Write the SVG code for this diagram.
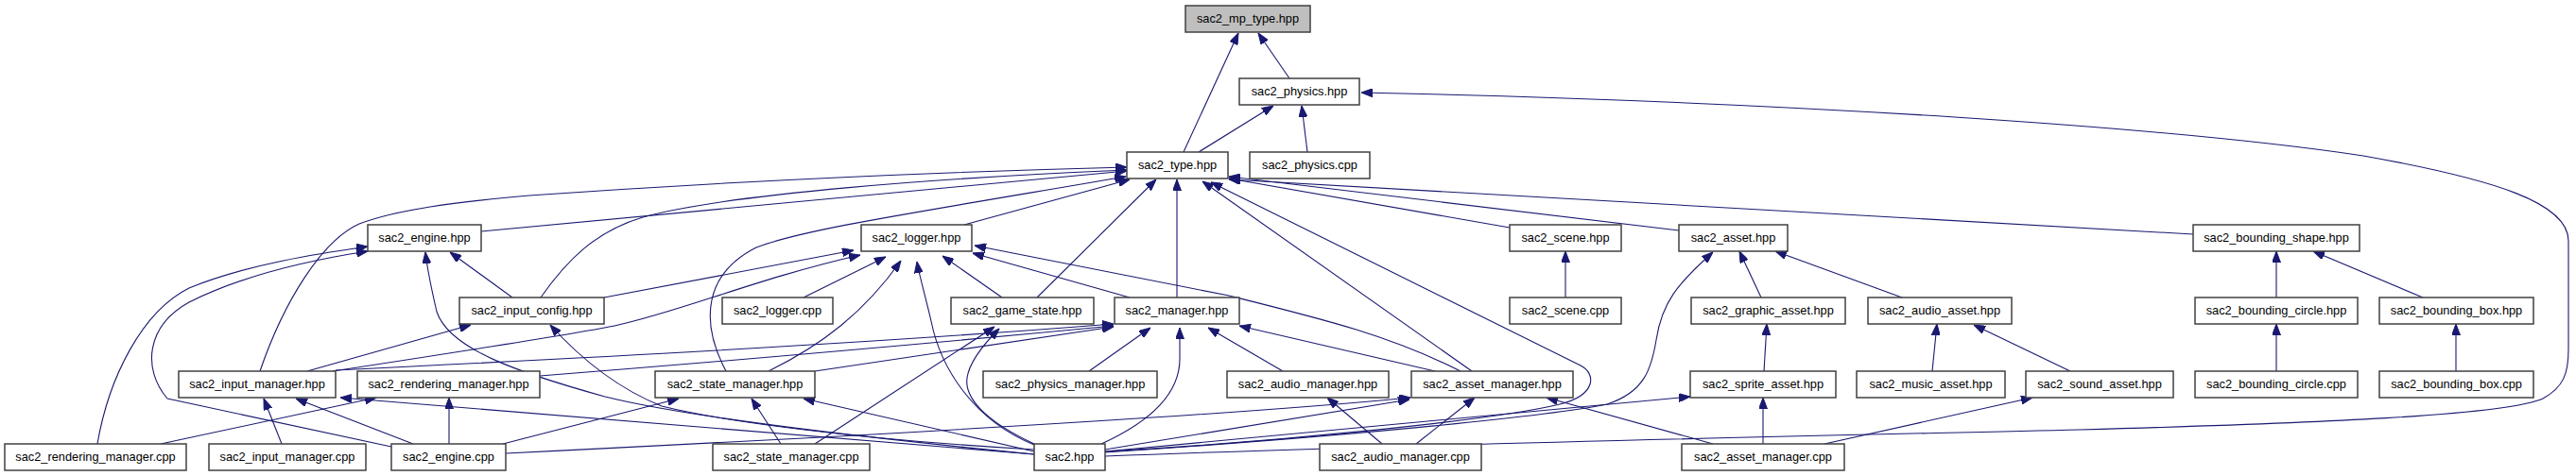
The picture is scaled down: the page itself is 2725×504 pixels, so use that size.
<svg xmlns="http://www.w3.org/2000/svg" width="2725" height="504" viewBox="0 0 2725 504">
<style>
.n rect{fill:#fff;stroke:#404040;stroke-width:1.5}
.n text{font-family:"Liberation Sans",Arial,Helvetica,sans-serif;font-size:12.8px;text-anchor:middle;fill:#000}
#mp_type rect{fill:#bfbfbf}
.e path{fill:none;stroke:#191970;stroke-width:1.1;marker-end:url(#ah)}
</style>
<defs>
<marker id="ah" markerWidth="12" markerHeight="9" refX="12" refY="4.5" orient="auto" markerUnits="userSpaceOnUse">
<path d="M0,0 L12,4.5 L0,9 z" fill="#191970" stroke="#191970" stroke-width="1"/>
</marker>
</defs>
<rect width="2725" height="504" fill="#fff"/>
<g class="e" id="edges">
<path d="M1252,161 L1310,35"/>
<path d="M1364,83 L1331,35"/>
<path d="M1268,161 L1347,112"/>
<path d="M1383,161 L1377,112"/>
<path d="M1169,483 C1500,470 1900,462 2200,455 C2450,448 2650,440 2690,422 C2712,410 2717,395 2717,370 L2717,255 C2717,215 2640,190 2500,165 C2300,135 1900,108 1440,98"/>
<path d="M509,245 L1192,181"/>
<path d="M1020,238 L1195,190"/>
<path d="M572,315 C600,275 630,245 680,230 C770,205 1000,188 1192,180"/>
<path d="M275,393 C300,320 340,255 380,237 C420,222 480,214 560,207 C800,190 1000,182 1192,177"/>
<path d="M768,393 C740,340 745,290 800,262 C850,243 950,228 1191,187"/>
<path d="M1097,315 L1223,190"/>
<path d="M1245,315 L1245,190"/>
<path d="M1597,241 L1300,189"/>
<path d="M1776,244 L1300,187"/>
<path d="M2320,248 L1300,190"/>
<path d="M1557,393 L1272,192"/>
<path d="M1169,478 C1350,468 1580,445 1650,428 C1690,418 1688,395 1672,387 L1281,193"/>
<path d="M639,315 L903,265"/>
<path d="M352,393 C450,378 600,355 650,345 C720,330 800,295 910,270"/>
<path d="M850,315 L937,272"/>
<path d="M813,393 C870,365 915,330 953,276"/>
<path d="M1094,471 C1030,445 995,390 985,340 C978,310 972,290 970,277"/>
<path d="M1060,315 L997,271"/>
<path d="M1195,315 L1029,268"/>
<path d="M1545,393 C1470,355 1400,338 1300,313 L1031,260"/>
<path d="M862,470 L1052,346"/>
<path d="M1094,470 C1040,445 1020,420 1023,400 C1026,380 1045,360 1057,348"/>
<path d="M355,392 C600,380 900,365 1178,343"/>
<path d="M571,398 C800,380 1000,362 1178,345"/>
<path d="M862,393 L1178,346"/>
<path d="M1152,393 L1217,347"/>
<path d="M1165,470 C1220,445 1248,415 1248,380 L1248,347"/>
<path d="M1357,393 L1278,347"/>
<path d="M1518,393 L1311,345"/>
<path d="M532,470 L718,422"/>
<path d="M826,470 L795,422"/>
<path d="M1094,478 L850,422"/>
<path d="M298,470 L279,422"/>
<path d="M437,470 L313,422"/>
<path d="M1094,481 L360,421"/>
<path d="M170,470 L398,421"/>
<path d="M475,470 L475,421"/>
<path d="M325,393 L498,344"/>
<path d="M1094,476 C900,465 760,445 700,430 C650,410 610,375 582,344"/>
<path d="M542,315 L476,267"/>
<path d="M103,470 C115,400 150,330 200,305 C260,280 340,268 389,261"/>
<path d="M414,473 L177,422 C150,390 155,345 200,320 C260,290 330,275 389,266"/>
<path d="M1094,481 C900,462 720,440 640,420 C550,395 475,370 462,330 C455,300 452,285 450,267"/>
<path d="M535,480 C900,462 1300,440 1492,421"/>
<path d="M1169,476 L1491,423"/>
<path d="M1498,470 L1560,421"/>
<path d="M1812,470 L1636,421"/>
<path d="M1462,470 L1404,421"/>
<path d="M1656,315 L1656,266"/>
<path d="M1863,315 L1840,266"/>
<path d="M2012,315 L1878,266"/>
<path d="M1169,479 C1450,460 1640,440 1700,428 C1740,415 1747,390 1752,360 C1758,320 1775,300 1812,267"/>
<path d="M1169,478 L1788,420"/>
<path d="M1865,470 L1865,421"/>
<path d="M1866,393 L1869,343"/>
<path d="M2044,393 L2049,343"/>
<path d="M2190,393 L2088,344"/>
<path d="M1930,470 L2150,421"/>
<path d="M2408,315 L2408,266"/>
<path d="M2563,315 L2447,266"/>
<path d="M2408,393 L2408,343"/>
<path d="M2598,393 L2598,343"/>
</g>
<g class="n" id="mp_type"><rect x="1254" y="6" width="132" height="28"/><text x="1320" y="24">sac2_mp_type.hpp</text></g>
<g class="n" id="physics_hpp"><rect x="1311" y="83" width="127" height="28"/><text x="1374.5" y="101">sac2_physics.hpp</text></g>
<g class="n" id="type_hpp"><rect x="1192" y="161" width="107" height="28"/><text x="1245.5" y="179">sac2_type.hpp</text></g>
<g class="n" id="physics_cpp"><rect x="1322" y="161" width="127" height="28"/><text x="1385.5" y="179">sac2_physics.cpp</text></g>
<g class="n" id="engine_hpp"><rect x="389" y="238" width="120" height="28"/><text x="449" y="256">sac2_engine.hpp</text></g>
<g class="n" id="logger_hpp"><rect x="911" y="238" width="117" height="28"/><text x="969.5" y="256">sac2_logger.hpp</text></g>
<g class="n" id="scene_hpp"><rect x="1597" y="238" width="118" height="28"/><text x="1656" y="256">sac2_scene.hpp</text></g>
<g class="n" id="asset_hpp"><rect x="1776" y="238" width="115" height="28"/><text x="1833.5" y="256">sac2_asset.hpp</text></g>
<g class="n" id="bounding_shape_hpp"><rect x="2320" y="238" width="176" height="28"/><text x="2408" y="256">sac2_bounding_shape.hpp</text></g>
<g class="n" id="input_config_hpp"><rect x="486" y="315" width="153" height="28"/><text x="562.5" y="333">sac2_input_config.hpp</text></g>
<g class="n" id="logger_cpp"><rect x="764" y="315" width="117" height="28"/><text x="822.5" y="333">sac2_logger.cpp</text></g>
<g class="n" id="game_state_hpp"><rect x="1006" y="315" width="151" height="28"/><text x="1081.5" y="333">sac2_game_state.hpp</text></g>
<g class="n" id="manager_hpp"><rect x="1179" y="315" width="132" height="28"/><text x="1245" y="333">sac2_manager.hpp</text></g>
<g class="n" id="scene_cpp"><rect x="1597" y="315" width="118" height="28"/><text x="1656" y="333">sac2_scene.cpp</text></g>
<g class="n" id="graphic_asset_hpp"><rect x="1789" y="315" width="163" height="28"/><text x="1870.5" y="333">sac2_graphic_asset.hpp</text></g>
<g class="n" id="audio_asset_hpp"><rect x="1976" y="315" width="152" height="28"/><text x="2052" y="333">sac2_audio_asset.hpp</text></g>
<g class="n" id="bounding_circle_hpp"><rect x="2322" y="315" width="172" height="28"/><text x="2408" y="333">sac2_bounding_circle.hpp</text></g>
<g class="n" id="bounding_box_hpp"><rect x="2517" y="315" width="163" height="28"/><text x="2598.5" y="333">sac2_bounding_box.hpp</text></g>
<g class="n" id="input_manager_hpp"><rect x="189" y="393" width="166" height="28"/><text x="272" y="411">sac2_input_manager.hpp</text></g>
<g class="n" id="rendering_manager_hpp"><rect x="378" y="393" width="193" height="28"/><text x="474.5" y="411">sac2_rendering_manager.hpp</text></g>
<g class="n" id="state_manager_hpp"><rect x="693" y="393" width="169" height="28"/><text x="777.5" y="411">sac2_state_manager.hpp</text></g>
<g class="n" id="physics_manager_hpp"><rect x="1040" y="393" width="184" height="28"/><text x="1132" y="411">sac2_physics_manager.hpp</text></g>
<g class="n" id="audio_manager_hpp"><rect x="1298" y="393" width="171" height="28"/><text x="1383.5" y="411">sac2_audio_manager.hpp</text></g>
<g class="n" id="asset_manager_hpp"><rect x="1493" y="393" width="171" height="28"/><text x="1578.5" y="411">sac2_asset_manager.hpp</text></g>
<g class="n" id="sprite_asset_hpp"><rect x="1788" y="393" width="154" height="28"/><text x="1865" y="411">sac2_sprite_asset.hpp</text></g>
<g class="n" id="music_asset_hpp"><rect x="1964" y="393" width="157" height="28"/><text x="2042.5" y="411">sac2_music_asset.hpp</text></g>
<g class="n" id="sound_asset_hpp"><rect x="2143" y="393" width="156" height="28"/><text x="2221" y="411">sac2_sound_asset.hpp</text></g>
<g class="n" id="bounding_circle_cpp"><rect x="2322" y="393" width="172" height="28"/><text x="2408" y="411">sac2_bounding_circle.cpp</text></g>
<g class="n" id="bounding_box_cpp"><rect x="2517" y="393" width="163" height="28"/><text x="2598.5" y="411">sac2_bounding_box.cpp</text></g>
<g class="n" id="rendering_manager_cpp"><rect x="5" y="470" width="192" height="28"/><text x="101" y="488">sac2_rendering_manager.cpp</text></g>
<g class="n" id="input_manager_cpp"><rect x="221" y="470" width="166" height="28"/><text x="304" y="488">sac2_input_manager.cpp</text></g>
<g class="n" id="engine_cpp"><rect x="414" y="470" width="121" height="28"/><text x="474.5" y="488">sac2_engine.cpp</text></g>
<g class="n" id="state_manager_cpp"><rect x="754" y="470" width="166" height="28"/><text x="837" y="488">sac2_state_manager.cpp</text></g>
<g class="n" id="sac2_hpp"><rect x="1094" y="470" width="75" height="28"/><text x="1131.5" y="488">sac2.hpp</text></g>
<g class="n" id="audio_manager_cpp"><rect x="1396" y="470" width="171" height="28"/><text x="1481.5" y="488">sac2_audio_manager.cpp</text></g>
<g class="n" id="asset_manager_cpp"><rect x="1779" y="470" width="172" height="28"/><text x="1865" y="488">sac2_asset_manager.cpp</text></g>
</svg>
